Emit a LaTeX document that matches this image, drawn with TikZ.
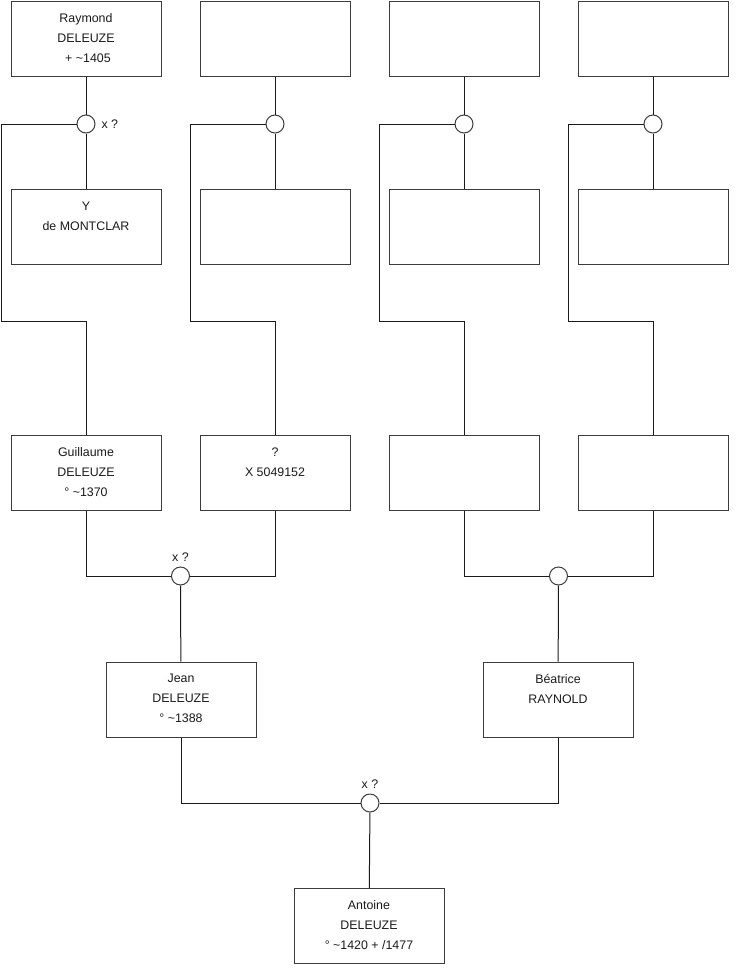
\documentclass[tikz,border=0pt]{standalone}
\usepackage{fontspec}
\setmainfont{Liberation Sans}
\usetikzlibrary{positioning}
\definecolor{ink}{HTML}{1A1A1A}
\definecolor{frame}{HTML}{3C3C3C}

\begin{document}
\begin{tikzpicture}[x=0.75pt, y=-0.75pt,
    every node/.style={text=ink, font=\fontsize{9.3}{15}\selectfont},
    person/.style={draw=frame, line width=0.75pt, minimum width=112.5pt, minimum height=56.25pt, inner sep=0pt},
    txt/.style={anchor=north, align=center, inner sep=0pt, yshift=-9.5pt},
    union/.style={circle, draw=frame, line width=0.75pt, minimum size=13.5pt, inner sep=0pt, fill=white},
    link/.style={ink, line width=0.75pt}
]

% ---------------- canvas ----------------
\useasboundingbox (0,0) rectangle (740,975);

% ---------------- generation 1: top row and spouses ----------------
\node[person, label={[txt]north:Raymond\\DELEUZE\\\hspace*{3pt}+ \textasciitilde1405}] (top1) at (86,38.5) {};
\node[person] (top2) at (275,38.5) {};
\node[person] (top3) at (464,38.5) {};
\node[person] (top4) at (653,38.5) {};

\node[person, label={[txt]north:Y\\de MONTCLAR}] (wife1) at (86,227) {};
\node[person] (wife2) at (275,227) {};
\node[person] (wife3) at (464,227) {};
\node[person] (wife4) at (653,227) {};

% ---------------- generation 2 ----------------
\node[person, label={[txt]north:Guillaume\\DELEUZE\\° \textasciitilde1370}] (mid1) at (86,472.5) {};
\node[person, label={[txt]north:?\\X 5049152}] (mid2) at (275,472.5) {};
\node[person] (mid3) at (464,472.5) {};
\node[person] (mid4) at (653,472.5) {};

% ---------------- generation 3 and 4 ----------------
\node[person, label={[txt]north:Jean\\DELEUZE\\° \textasciitilde1388}] (jean) at (181,699.5) {};
\node[person, label={[txt]north:Béatrice\\RAYNOLD}] (beatrice) at (558,699.5) {};
\node[person, label={[txt]north:Antoine\\DELEUZE\\° \textasciitilde1420 + /1477}] (antoine) at (369,926) {};

% ---------------- unions ----------------
\foreach \x [count=\i] in {86,275,464,653} {
    \coordinate (k\i) at (\x-85,321);
    \node[union] (m\i) at (\x,124) {};
    \draw[link] (top\i) -- (m\i);
    \draw[link] (m\i) -- (wife\i);
    \draw[link] (m\i.west) -| (k\i) -| (mid\i.north);
}
\node[right=1pt of m1] (m1lbl) {x ?};

\node[union] (n1) at (180.5,576) {};
\node[union] (n2) at (558.5,576) {};
\node[union] (n3) at (370,803) {};
\node[above=0pt of n1] (n1lbl) {x ?};
\node[above=0pt of n3] (n3lbl) {x ?};

\draw[link] (mid1.south) |- (n1.west);
\draw[link] (mid2.south) |- (n1.east);
\draw[link] (n1) -- (jean);
\draw[link] (mid3.south) |- (n2.west);
\draw[link] (mid4.south) |- (n2.east);
\draw[link] (n2) -- (beatrice);
\draw[link] (jean.south) |- (n3.west);
\draw[link] (beatrice.south) |- (n3.east);
\draw[link] (n3) -- (antoine);

\end{tikzpicture}
\end{document}
